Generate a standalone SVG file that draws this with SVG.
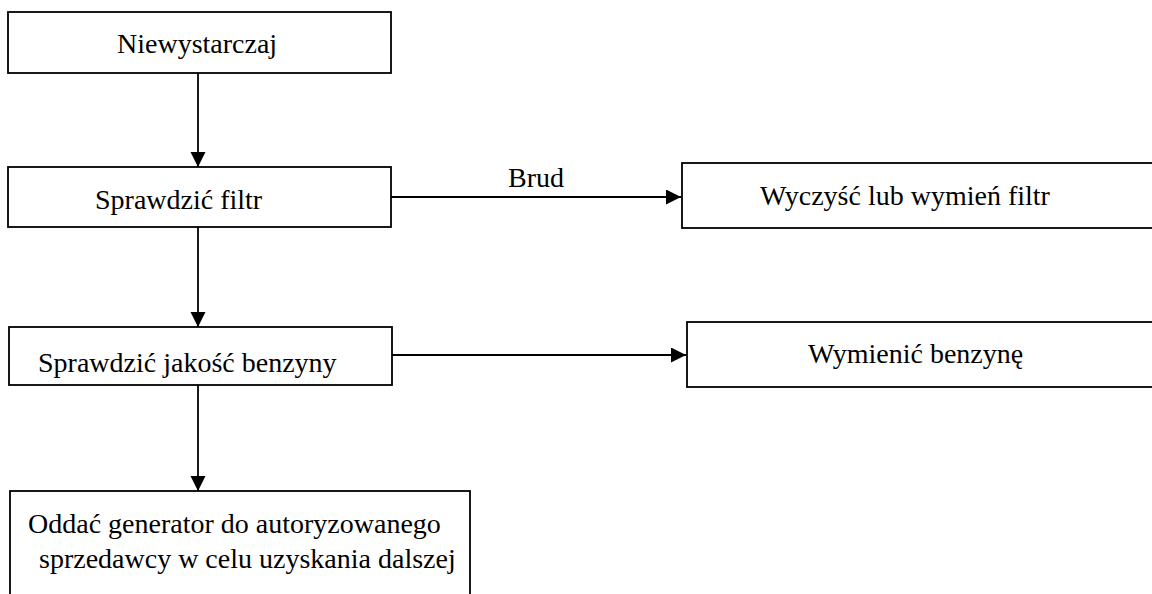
<svg xmlns="http://www.w3.org/2000/svg" width="1152" height="594" viewBox="0 0 1152 594">
<style>
.box{fill:#fff;stroke:#000;stroke-width:1.8}
.lbl{font-family:"Liberation Serif","Times New Roman",serif;font-size:28px;fill:#000}
.conn{stroke:#000;stroke-width:1.8;fill:none;marker-end:url(#ah)}
</style>
<defs>
<marker id="ah" markerUnits="userSpaceOnUse" markerWidth="16" markerHeight="16" refX="15" refY="7.5" orient="auto">
<path d="M0,0 L15,7.5 L0,15 z" fill="#000"/>
</marker>
</defs>
<rect width="1152" height="594" fill="#fff"/>
<g id="n1"><rect class="box" x="8" y="12" width="383" height="61"/><text class="lbl" x="117" y="53">Niewystarczaj</text></g>
<g id="n2"><rect class="box" x="8" y="167" width="383" height="60"/><text class="lbl" x="95" y="209">Sprawdzić filtr</text></g>
<g id="n3"><rect class="box" x="682" y="163" width="480" height="65"/><text class="lbl" x="760" y="205">Wyczyść lub wymień filtr</text></g>
<g id="n4"><rect class="box" x="9" y="327" width="383" height="58"/><text class="lbl" x="38" y="372">Sprawdzić jakość benzyny</text></g>
<g id="n5"><rect class="box" x="687" y="322" width="480" height="65"/><text class="lbl" x="808" y="363">Wymienić benzynę</text></g>
<g id="n6"><rect class="box" x="10" y="491" width="460" height="120"/><text class="lbl" x="28" y="533">Oddać generator do autoryzowanego</text><text class="lbl" x="39" y="568">sprzedawcy w celu uzyskania dalszej</text></g>
<g id="connectors">
<line class="conn" x1="198" y1="73" x2="198" y2="167"/>
<line class="conn" x1="198" y1="227" x2="198" y2="327"/>
<line class="conn" x1="198" y1="385" x2="198" y2="491"/>
<line class="conn" x1="391" y1="197" x2="681" y2="197"/>
<line class="conn" x1="392" y1="355" x2="686" y2="355"/>
<text class="lbl" x="508" y="187">Brud</text>
</g>
</svg>
